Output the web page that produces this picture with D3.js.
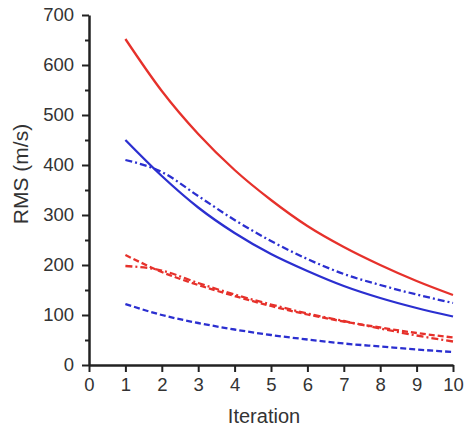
<!DOCTYPE html>
<html>
<head>
<meta charset="utf-8">
<script src="https://cdn.jsdelivr.net/npm/d3@7"></script>
<style>
  body { margin: 0; background: #fff; }
  svg text { font-family: "Liberation Sans", Arial, sans-serif; fill: #333; }
</style>
</head>
<body>
<svg width="464" height="426"></svg>
<script>
// values
const iterations = [1, 2, 3, 4, 5, 6, 7, 8, 9, 10];
const redSolid   = [652, 548, 462, 390, 330, 278, 236, 200, 168, 140];
const blueSolid  = [450, 378, 315, 264, 222, 188, 158, 134, 114, 97];
const blueDashDot = [410, 386, 338, 290, 248, 212, 182, 160, 141, 124];
const redDashed  = [220, 186, 160, 138, 118, 101, 87, 75, 64, 55];
const redDashDot = [198, 189, 164, 141, 121, 103, 88, 73, 59, 47];
const blueDashed = [122, 100, 84, 71, 60, 51, 43, 37, 31, 26];
const xTicks = [0, 1, 2, 3, 4, 5, 6, 7, 8, 9, 10];
const yTicks = [0, 100, 200, 300, 400, 500, 600, 700];

const series = [
    {vals: redSolid, color: "#e6312b", dash: null},
    {vals: blueSolid, color: "#2b2fd0", dash: null},
    {vals: blueDashDot, color: "#2b2fd0", dash: "7,3,2,3"},
    {vals: redDashed, color: "#e6312b", dash: "6,3"},
    {vals: redDashDot, color: "#e6312b", dash: "7,3,2,3"},
    {vals: blueDashed, color: "#2b2fd0", dash: "6,3"}
];

const svg = d3.select("svg");
const x = d3.scaleLinear().domain([0, 10]).range([89, 453]);
const y = d3.scaleLinear().domain([0, 700]).range([365, 15]);

// minor y ticks
svg.append("g")
    .attr("transform", "translate(89,0)")
    .call(d3.axisLeft(y).tickValues(d3.range(50, 700, 100)).tickSize(4).tickFormat(""))
    .call(g => g.select(".domain").remove())
    .selectAll("line").attr("stroke", "#222").attr("stroke-width", 2);

const yAxis = svg.append("g")
    .attr("transform", "translate(89,0)")
    .call(d3.axisLeft(y).tickValues(yTicks).tickSize(7).tickSizeOuter(0).tickPadding(8));
yAxis.select(".domain").attr("stroke", "#222").attr("stroke-width", 2.5);
yAxis.selectAll(".tick line").attr("stroke", "#222").attr("stroke-width", 2);
yAxis.selectAll("text").attr("font-size", 18.5).style("fill", "#333");

const xAxis = svg.append("g")
    .attr("transform", "translate(0,365)")
    .call(d3.axisBottom(x).tickValues(xTicks).tickSize(7).tickSizeOuter(0).tickPadding(6));
xAxis.select(".domain").attr("stroke", "#222").attr("stroke-width", 2.5);
xAxis.selectAll(".tick line").attr("stroke", "#222").attr("stroke-width", 2);
xAxis.selectAll("text").attr("font-size", 18.5).style("fill", "#333");

svg.append("text")
    .attr("transform", "translate(28,174) rotate(-90)")
    .attr("text-anchor", "middle")
    .attr("font-size", 21)
    .text("RMS (m/s)");

svg.append("text")
    .attr("x", 264).attr("y", 423)
    .attr("text-anchor", "middle")
    .attr("font-size", 20)
    .text("Iteration");

const line = d3.line()
    .x((d, i) => x(iterations[i]))
    .y(d => y(d))
    .curve(d3.curveMonotoneX);

svg.selectAll("path.series").data(series)
    .enter().append("path")
    .attr("class", "series")
    .attr("d", d => line(d.vals))
    .attr("fill", "none")
    .attr("stroke", d => d.color)
    .attr("stroke-width", 2.3)
    .attr("stroke-dasharray", d => d.dash);
</script>
</body>
</html>
